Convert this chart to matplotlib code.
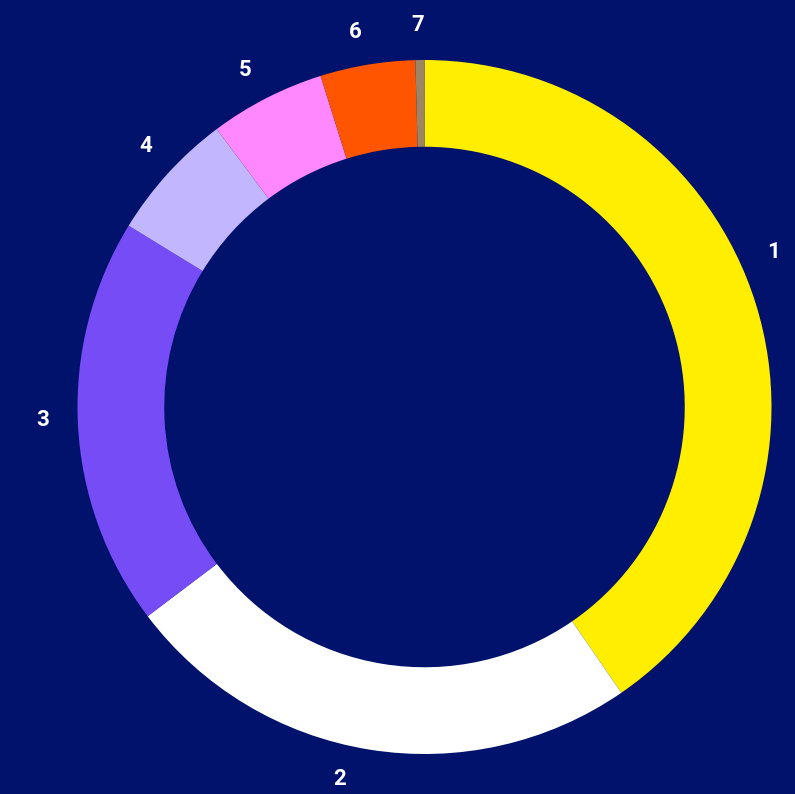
import numpy as np
import matplotlib
matplotlib.use('Agg')
import matplotlib.pyplot as plt

labels = ['1', '2', '3', '4', '5', '6', '7']
values = [40.4, 24.3, 19.05, 6.03, 5.38, 4.42, 0.42]
colors = ['#FFEE00', '#FFFFFF', '#764CF6', '#C2B6FF', '#FF88FF', '#FF5500', '#9C8464']
bg = '#00126B'

# label directions, degrees clockwise from 12 o'clock
label_angles = [66, 192.8, 268, 313.1, 331.9, 349.5, 359]

plt.rcParams['font.family'] = ['Roboto', 'DejaVu Sans']

fig = plt.figure(figsize=(7.95, 7.94), dpi=100)
fig.patch.set_facecolor(bg)
ax = fig.add_axes([0, 0, 1, 1])
ax.set_facecolor(bg)

wedges, texts = ax.pie(values, labels=labels, colors=colors, startangle=90,
                       counterclock=False, radius=1.0, labeldistance=1.1,
                       wedgeprops=dict(width=0.25, edgecolor='none'),
                       textprops=dict(color='white', fontsize=16, fontweight='bold'))
for t, a in zip(texts, label_angles):
    r = np.radians(a)
    t.set_position((1.1 * np.sin(r), 1.1 * np.cos(r)))
    t.set_ha('center')
    t.set_va('center')

ax.set_xlim(-424.5 / 347, (795 - 424.5) / 347)
ax.set_ylim(-387 / 347, 407 / 347)
ax.set_aspect('auto')
ax.axis('off')

fig.savefig('out.png', dpi=100, facecolor=bg)
